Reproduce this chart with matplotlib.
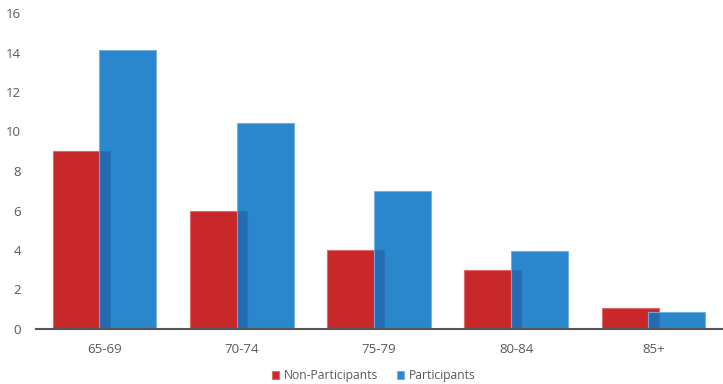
import numpy as np
import matplotlib.pyplot as plt

categories = ["65-69", "70-74", "75-79", "80-84", "85+"]
non_participants = [9, 6, 4, 3, 1.05]
participants = [14.15, 10.45, 7.0, 3.95, 0.87]

plt.rcParams["font.family"] = ["Open Sans", "DejaVu Sans"]
text_color = "#595959"

fig = plt.figure(figsize=(7.23, 3.84), dpi=100)
ax = fig.add_axes([36 / 723, 55 / 384, 686 / 723, 316 / 384])

x = np.arange(len(categories))
w = 0.415
ax.bar(x - 0.17, non_participants, w, color="#c9282b", edgecolor="#e06a6a",
       linewidth=0.8, label="Non-Participants", zorder=2)
ax.bar(x + 0.17, participants, w, color=(13 / 255, 118 / 255, 197 / 255, 0.88),
       edgecolor=(0.45, 0.68, 0.88, 0.9), linewidth=0.8, label="Participants", zorder=3)

ax.set_xlim(-0.5, len(categories) - 0.5)
ax.set_ylim(0, 16)
ax.set_yticks(range(0, 17, 2))
ax.set_xticks(x)
ax.set_xticklabels(categories)
ax.tick_params(axis="both", length=0, labelsize=9.5, colors=text_color)
ax.tick_params(axis="x", pad=10)
ax.tick_params(axis="y", pad=11)

for side in ["top", "right", "left"]:
    ax.spines[side].set_visible(False)
ax.spines["bottom"].set_color("#555555")
ax.spines["bottom"].set_linewidth(1.5)
ax.spines["bottom"].set_zorder(4)

leg = fig.legend(loc="center", bbox_to_anchor=(0.517, 8 / 384), ncol=2, frameon=False,
                 fontsize=8.7, handlelength=0.6, handleheight=0.6, handletextpad=0.35,
                 columnspacing=1.6)
for t in leg.get_texts():
    t.set_color(text_color)

fig.savefig("out.png", dpi=100)
